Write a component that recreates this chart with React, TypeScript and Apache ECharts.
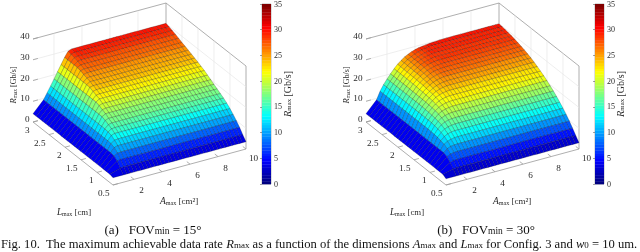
import React, { useEffect, useRef } from "react";
import * as echarts from "echarts";

// Grid of the surfaces
const aValues = [0.5, 1.25, 1.5, 1.75, 2, 2.25, 2.5, 2.75, 3, 3.25, 3.5, 3.75, 4, 4.25, 4.5, 4.75, 5, 5.25, 5.5, 5.75, 6, 6.25, 6.5, 6.75, 7, 7.25, 7.5, 7.75, 8, 8.25, 8.5, 8.75, 9, 9.25, 9.5, 9.75, 10];
const lValues = [0.5, 0.6, 0.7, 0.8, 0.9, 1, 1.1, 1.2, 1.3, 1.4, 1.5, 1.6, 1.7, 1.8, 1.9, 2, 2.1, 2.2, 2.3, 2.4, 2.5, 2.6, 2.7, 2.8, 2.9, 3];

// R_max per L row; a row that ends early stays at its last value up to A = 10
const ratesFov15 = [
  [3.5],
  [4, 5.5, 5.7],
  [4, 7.8, 8],
  [4, 9, 9.9, 10],
  [4, 9.3, 11.3, 11.8],
  [4, 9.3, 12, 13.2, 13.4],
  [4, 9.3, 12.2, 14.3, 14.8],
  [4, 9.3, 12.2, 14.8, 15.8, 16],
  [4, 9.3, 12.2, 15, 16.6, 17],
  [4, 9.3, 12.2, 15, 17.4, 18],
  [4, 9.3, 12.2, 15, 18, 19],
  [4, 9.3, 12.2, 15, 18, 19.7, 20],
  [4, 9.3, 12.2, 15, 18, 20.5, 21],
  [4, 9.3, 12.2, 15, 18, 21, 22],
  [4, 9.3, 12.2, 15, 18, 21, 22.6, 22.8],
  [4, 9.3, 12.2, 15, 18, 21, 23.2, 23.6],
  [4, 9.3, 12.2, 15, 18, 21, 23.9, 24.3],
  [4, 9.3, 12.2, 15, 18, 21, 24, 25],
  [4, 9.3, 12.2, 15, 18, 21, 24, 25.6, 25.7],
  [4, 9.3, 12.2, 15, 18, 21, 24, 26, 26.4],
  [4, 9.3, 12.2, 15, 18, 21, 24, 26.6, 27],
  [4, 9.3, 12.2, 15, 18, 21, 24, 27, 27.7, 27.8],
  [4, 9.3, 12.2, 15, 18, 21, 24, 27, 28.3, 28.5],
  [4, 9.3, 12.2, 15, 18, 21, 24, 27, 28.8, 29.1],
  [4, 9.3, 12.2, 15, 18, 21, 24, 27, 29.2, 29.7],
  [4, 9.3, 12.2, 15, 18, 21, 24, 27, 29.5, 30.2],
];
const ratesFov30 = [
  [3],
  [4, 5.1, 5.3],
  [4, 7, 7.5, 7.6],
  [4, 8.6, 9.4, 9.7, 9.8],
  [4, 9.3, 10.8, 11.4, 11.7, 11.8],
  [4, 9.3, 11.7, 12.7, 13.2, 13.5, 13.6],
  [4, 9.3, 12.2, 13.8, 14.6, 15, 15.2],
  [4, 9.3, 12.6, 14.5, 15.7, 16.3, 16.6, 16.8],
  [4, 9.3, 12.8, 15, 16.5, 17.4, 17.9, 18.1, 18.2],
  [4, 9.3, 12.9, 15.3, 17, 18.2, 18.9, 19.3, 19.5],
  [4, 9.3, 13, 15.5, 17.3, 18.8, 19.8, 20.3, 20.6, 20.8],
  [4, 9.3, 13, 15.6, 17.5, 19.2, 20.4, 21.1, 21.6, 21.8, 21.9],
  [4, 9.3, 13, 15.6, 17.7, 19.4, 20.8, 21.8, 22.4, 22.7, 22.9],
  [4, 9.3, 13, 15.7, 17.8, 19.6, 21.1, 22.3, 23, 23.5, 23.8, 23.9],
  [4, 9.3, 13, 15.7, 17.9, 19.7, 21.3, 22.6, 23.5, 24.1, 24.5, 24.8],
  [4, 9.3, 13, 15.7, 18, 19.8, 21.5, 22.8, 23.8, 24.6, 25.1, 25.4, 25.6],
  [4, 9.3, 13, 15.7, 18, 19.8, 21.6, 23, 24.1, 25, 25.6, 26, 26.3],
  [4, 9.3, 13, 15.7, 18, 19.9, 21.7, 23.2, 24.3, 25.3, 26, 26.5, 26.8, 27],
  [4, 9.3, 13, 15.7, 18, 19.9, 21.8, 23.3, 24.5, 25.5, 26.3, 26.9, 27.2, 27.4, 27.5],
  [4, 9.3, 13, 15.7, 18, 20, 21.9, 23.4, 24.7, 25.7, 26.6, 27.2, 27.6, 27.8, 28],
  [4, 9.3, 13, 15.7, 18, 20, 21.9, 23.5, 24.8, 25.9, 26.8, 27.5, 28, 28.3, 28.5],
  [4, 9.3, 13, 15.7, 18, 20, 22, 23.5, 24.9, 26, 27, 27.7, 28.2, 28.6, 28.8, 28.9],
  [4, 9.3, 13, 15.7, 18, 20, 22, 23.6, 25, 26.1, 27, 27.8, 28.4, 28.8, 29.1, 29.2],
  [4, 9.3, 13, 15.7, 18, 20, 22, 23.6, 25, 26.2, 27.1, 27.8, 28.4, 28.9, 29.2, 29.4, 29.5],
  [4, 9.3, 13, 15.7, 18, 20, 22, 23.7, 25.1, 26.2, 27.1, 27.9, 28.5, 29, 29.3, 29.6, 29.8],
  [4, 9.3, 13, 15.7, 18, 20, 22, 23.7, 25.1, 26.3, 27.2, 27.9, 28.5, 28.9, 29.2, 29.4, 29.6, 29.7, 29.8, 29.9, 30],
];

const aTicks = [2, 4, 6, 8, 10];
const lTicks = [0.5, 1, 1.5, 2, 2.5, 3];
const rTicks = [0, 10, 20, 30, 40];
const A_MIN = 0.5, A_MAX = 10, L_MIN = 0.5, L_MAX = 3, R_MAX = 40, CBAR_MAX = 35;

const panels = [
  { originX: 113, rates: ratesFov15, cbarLeft: 262, rLabelX: 13, cbarLabelX: 287, aLabelX: 179, lLabelX: 74, capX: 153, capTag: "(a)", capFov: "15°" },
  { originX: 446, rates: ratesFov30, cbarLeft: 595, rLabelX: 346, cbarLabelX: 620, aLabelX: 512, lLabelX: 407, capX: 486, capTag: "(b)", capFov: "30°" },
];

const FONT = '"Liberation Serif", serif';
const INK = "#2a2a2a";

function jet(v: number) {
  const x = Math.min(63, Math.floor(Math.max(0, Math.min(1, v)) * 64)) / 63;
  const c = (t: number) => Math.round(255 * Math.max(0, Math.min(1, t)));
  const r = c(Math.min(4 * x - 1.5, -4 * x + 4.5));
  const g = c(Math.min(4 * x - 0.5, -4 * x + 3.5));
  const b = c(Math.min(4 * x + 0.5, -4 * x + 2.5));
  return `rgb(${r},${g},${b})`;
}

function project(originX: number, A: number, L: number, R: number) {
  const a = (A - A_MIN) / (A_MAX - A_MIN);
  const b = (L - L_MIN) / (L_MAX - L_MIN);
  return [originX + 133 * a - 80 * b, 185 - 36 * a - 63 * b - (83 * R) / R_MAX];
}

function rateAt(rows: number[][], j: number, i: number) {
  const row = rows[j];
  return row[Math.min(i, row.length - 1)];
}

function surfaceSeries(p: any) {
  const data: number[][] = [];
  for (let j = lValues.length - 2; j >= 0; j--) {
    for (let i = aValues.length - 2; i >= 0; i--) {
      data.push([
        aValues[i], aValues[i + 1], lValues[j], lValues[j + 1],
        rateAt(p.rates, j, i), rateAt(p.rates, j, i + 1), rateAt(p.rates, j + 1, i), rateAt(p.rates, j + 1, i + 1),
      ]);
    }
  }
  return {
    type: "custom", xAxisIndex: 0, yAxisIndex: 0, silent: true, z: 3, data,
    renderItem: (_: any, api: any) => {
      const [a0, a1, l0, l1, r00, r10, r01, r11] = [0, 1, 2, 3, 4, 5, 6, 7].map((d) => api.value(d));
      const pts = [
        project(p.originX, a0, l0, r00), project(p.originX, a1, l0, r10),
        project(p.originX, a1, l1, r11), project(p.originX, a0, l1, r01),
      ].map((q) => api.coord(q));
      return {
        type: "polygon", shape: { points: pts },
        style: { fill: jet(r00 / CBAR_MAX), stroke: "rgba(0,0,0,0.6)", lineWidth: 0.35 },
      };
    },
  };
}

function frameSeries(p: any) {
  // [A1, L1, R1, A2, L2, R2, style]; style 0 = box, 1 = faint grid
  const segs: number[][] = [
    [A_MIN, L_MAX, R_MAX, A_MAX, L_MAX, R_MAX, 0],
    [A_MAX, L_MAX, R_MAX, A_MAX, L_MIN, R_MAX, 0],
    [A_MAX, L_MAX, 0, A_MAX, L_MAX, R_MAX, 0],
    [A_MAX, L_MIN, 0, A_MAX, L_MIN, R_MAX, 0],
    [A_MIN, L_MIN, 0, A_MAX, L_MIN, 0, 0],
    [A_MIN, L_MIN, 0, A_MIN, L_MAX, 0, 0],
  ];
  rTicks.forEach((r) => {
    if (r > 0 && r < R_MAX) {
      segs.push([A_MIN, L_MAX, r, A_MAX, L_MAX, r, 1]);
      segs.push([A_MAX, L_MAX, r, A_MAX, L_MIN, r, 1]);
    }
    segs.push([A_MIN, L_MAX, r, A_MIN + 0.35, L_MAX, r, 0]);
  });
  aTicks.forEach((a) => {
    if (a < A_MAX) segs.push([a, L_MAX, 0, a, L_MAX, R_MAX, 1]);
    segs.push([a, L_MIN, 0, a, L_MIN + 0.1, 0, 0]);
  });
  lTicks.forEach((l) => {
    if (l > L_MIN && l < L_MAX) segs.push([A_MAX, l, 0, A_MAX, l, R_MAX, 1]);
    segs.push([A_MIN, l, 0, A_MIN + 0.35, l, 0, 0]);
  });
  return {
    type: "custom", xAxisIndex: 0, yAxisIndex: 0, silent: true, z: 2, data: segs,
    renderItem: (_: any, api: any) => {
      const s = api.value(6);
      const q1 = api.coord(project(p.originX, api.value(0), api.value(1), api.value(2)));
      const q2 = api.coord(project(p.originX, api.value(3), api.value(4), api.value(5)));
      return {
        type: "line", shape: { x1: q1[0], y1: q1[1], x2: q2[0], y2: q2[1] },
        style: { stroke: s === 0 ? "#9a9a9a" : "#e6e6e6", lineWidth: s === 0 ? 0.8 : 0.7 },
      };
    },
  };
}

function tickLabelSeries(p: any) {
  // [value, axis]; axis 0 = A, 1 = L, 2 = R
  const data = [
    ...aTicks.map((v) => [v, 0]),
    ...lTicks.map((v) => [v, 1]),
    ...rTicks.map((v) => [v, 2]),
  ];
  return {
    type: "custom", xAxisIndex: 0, yAxisIndex: 0, silent: true, z: 4, data,
    renderItem: (_: any, api: any) => {
      const v = api.value(0), axis = api.value(1);
      let q, dx, dy, align = "center";
      if (axis === 0) { q = project(p.originX, v, L_MIN, 0); dx = 7.5; dy = v === 10 ? 9 : 11; }
      else if (axis === 1) { q = project(p.originX, A_MIN, v, 0); dx = -3.5; dy = 8; align = "right"; }
      else { q = project(p.originX, A_MIN, L_MAX, v); dx = -3.5; dy = -3; align = "right"; }
      const c = api.coord(q);
      return {
        type: "text", x: c[0] + dx, y: c[1] + dy,
        style: { text: String(v), fontFamily: FONT, fontSize: 9.2, fill: INK, align, verticalAlign: "middle" },
      };
    },
  };
}

function colorbarSeries(gridIdx: number) {
  const data = Array.from({ length: 64 }, (_, k) => [(k * CBAR_MAX) / 64, ((k + 1) * CBAR_MAX) / 64]);
  return {
    type: "custom", xAxisIndex: gridIdx, yAxisIndex: gridIdx, silent: true, z: 2, data,
    renderItem: (_: any, api: any) => {
      const lo = api.value(0), hi = api.value(1);
      const a = api.coord([0, hi]), b = api.coord([1, lo]);
      return {
        type: "rect", shape: { x: a[0], y: a[1], width: b[0] - a[0], height: b[1] - a[1] + 0.3 },
        style: { fill: jet((lo + 0.01) / CBAR_MAX) },
      };
    },
  };
}

function richFor(size: number) {
  return {
    i: { fontFamily: FONT, fontStyle: "italic", fontSize: size + 0.5, fill: INK },
    s: { fontFamily: FONT, fontSize: size * 0.68, fill: INK, padding: [3, 0, 0, 0] },
    t: { fontFamily: FONT, fontSize: size, fill: INK },
  };
}

function axisTitle(x: number, y: number, text: string, size: number, rotation = 0) {
  return {
    type: "text", x, y, rotation, silent: true,
    style: { text, rich: richFor(size), fontFamily: FONT, fontSize: size, fill: INK, align: "center", verticalAlign: "middle" },
  };
}

export default function App() {
  const ref = useRef<HTMLDivElement>(null);
  useEffect(() => {
    if (!ref.current) return;
    const chart = echarts.init(ref.current, undefined, { renderer: "svg", width: 640, height: 252 });
    const grids: any[] = [{ left: 0, top: 0, width: 640, height: 252, show: false }];
    const xAxes: any[] = [{ type: "value", gridIndex: 0, min: 0, max: 640, show: false }];
    const yAxes: any[] = [{ type: "value", gridIndex: 0, min: 0, max: 252, inverse: true, show: false }];
    panels.forEach((p, n) => {
      grids.push({ left: p.cbarLeft, top: 4, width: 9, height: 180, show: true, borderColor: "#777", borderWidth: 0.5, backgroundColor: "transparent" });
      xAxes.push({ type: "value", gridIndex: n + 1, min: 0, max: 1, show: false });
      yAxes.push({
        type: "value", gridIndex: n + 1, min: 0, max: CBAR_MAX, interval: 5, position: "right",
        axisLine: { show: false }, splitLine: { show: false },
        axisTick: { show: true, inside: true, length: 2, lineStyle: { color: "#444", width: 0.5 } },
        axisLabel: { fontFamily: FONT, fontSize: 8, color: INK, margin: 3 },
      });
    });
    const series: any[] = [];
    panels.forEach((p, n) => {
      series.push(frameSeries(p), surfaceSeries(p), tickLabelSeries(p), colorbarSeries(n + 1));
    });
    const elements: any[] = [];
    panels.forEach((p) => {
      elements.push(axisTitle(p.rLabelX, 85, "{i|R}{s|max} {t|[Gb/s]}", 8, Math.PI / 2));
      elements.push(axisTitle(p.cbarLabelX, 94, "{i|R}{s|max} {t|[Gb/s]}", 10, Math.PI / 2));
      elements.push(axisTitle(p.aLabelX, 201, "{i|A}{s|max} {t|[cm²]}", 9));
      elements.push(axisTitle(p.lLabelX, 212, "{i|L}{s|max} {t|[cm]}", 8.8));
      elements.push({
        type: "text", x: p.capX, y: 229, silent: true,
        style: {
          text: `{c|${p.capTag}   FOV}{d|min}{c| = ${p.capFov}}`,
          rich: {
            c: { fontFamily: FONT, fontSize: 13, fill: "#111" },
            d: { fontFamily: FONT, fontSize: 9.5, fill: "#111", padding: [4, 0, 0, 0] },
          },
          align: "center", verticalAlign: "middle",
        },
      });
    });
    elements.push({
      type: "text", x: 1, y: 244, silent: true,
      style: {
        text: "{c|Fig. 10.  The maximum achievable data rate }{e|R}{d|max}{c| as a function of the dimensions }{e|A}{d|max}{c| and }{e|L}{d|max}{c| for Config. 3 and }{e|w}{d|0}{c| = 10 um.}",
        rich: {
          c: { fontFamily: FONT, fontSize: 12.6, fill: "#111" },
          e: { fontFamily: FONT, fontStyle: "italic", fontSize: 12.6, fill: "#111" },
          d: { fontFamily: FONT, fontSize: 9, fill: "#111", padding: [2, 0, 0, 0] },
        },
        align: "left", verticalAlign: "middle",
      },
    });
    chart.setOption({
      animation: false,
      backgroundColor: "#fff",
      grid: grids, xAxis: xAxes, yAxis: yAxes, series,
      graphic: { elements },
    });
    return () => chart.dispose();
  }, []);
  return <div ref={ref} style={{ position: "absolute", left: 0, top: 0, width: 640, height: 252, filter: "blur(0.35px)" }} />;
}
